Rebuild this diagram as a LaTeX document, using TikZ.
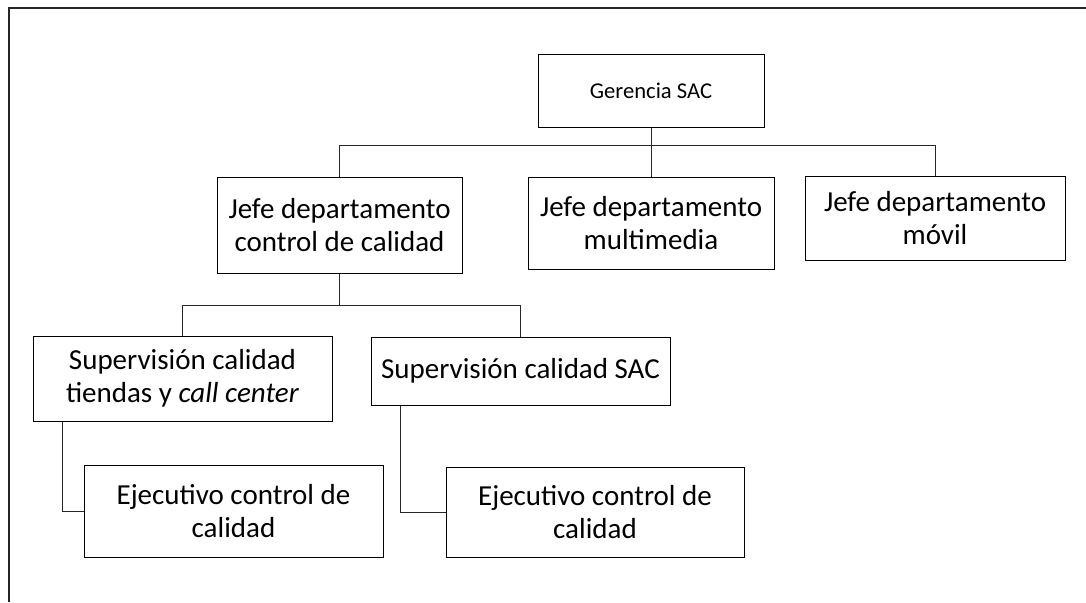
\documentclass[tikz,border=0pt]{standalone}
\usepackage{fontspec}
\setmainfont{Carlito}
\usepackage{tikz}

\begin{document}
\begin{tikzpicture}
[x=0.5pt,y=-0.5pt]
\tikzstyle{box node}=[draw,line width=0.5pt,inner sep=0,align=center,
  font=\fontsize{14.5}{16.5}\selectfont]
\tikzstyle{link}=[line width=0.5pt,draw=black!85]
\useasboundingbox (0,0) rectangle (1086,602);

% frame
\draw[line width=1pt,black!85] (1086,8) -- (9,8) -- (9,602);

\node(0)[box node,minimum width=113pt,minimum height=36.5pt,
  font=\fontsize{11.3}{13.5}\selectfont] at (651,90.5) {Gerencia SAC};
\node(1)[box node,minimum width=122.5pt,minimum height=48pt] at (339.5,225)
  {Jefe departamento\\control de calidad};
\node(2)[box node,minimum width=123pt,minimum height=46pt] at (651,223)
  {Jefe departamento\\multimedia};
\node(3)[box node,minimum width=130pt,minimum height=42pt] at (935,218)
  {Jefe departamento\\móvil};
\node(11)[box node,minimum width=149.5pt,minimum height=42.5pt] at (182.5,378.5)
  {Supervisión calidad\\tiendas y \textit{call center}};
\node(12)[box node,minimum width=149.5pt,minimum height=34pt] at (520.5,371)
  {Supervisión calidad SAC};
\node(111)[box node,minimum width=149.5pt,minimum height=46pt] at (233.5,511)
  {Ejecutivo control de\\calidad};
\node(121)[box node,minimum width=149pt,minimum height=45pt] at (595,512)
  {Ejecutivo control de\\calidad};

\coordinate(b0) at (651,145);
\coordinate(b1) at (339.5,305);

\draw[link] (0) -- (2);
\draw[link] (1.north) |- (b0) -| (3.north);
\draw[link] (1) -- (b1);
\draw[link] (11.north) |- (b1) -| (12.north);
\draw[link] (11.south west) ++(30,0) |- (111.west);
\draw[link] (12.south west) ++(30,0) |- (121.west);
\end{tikzpicture}
\end{document}
